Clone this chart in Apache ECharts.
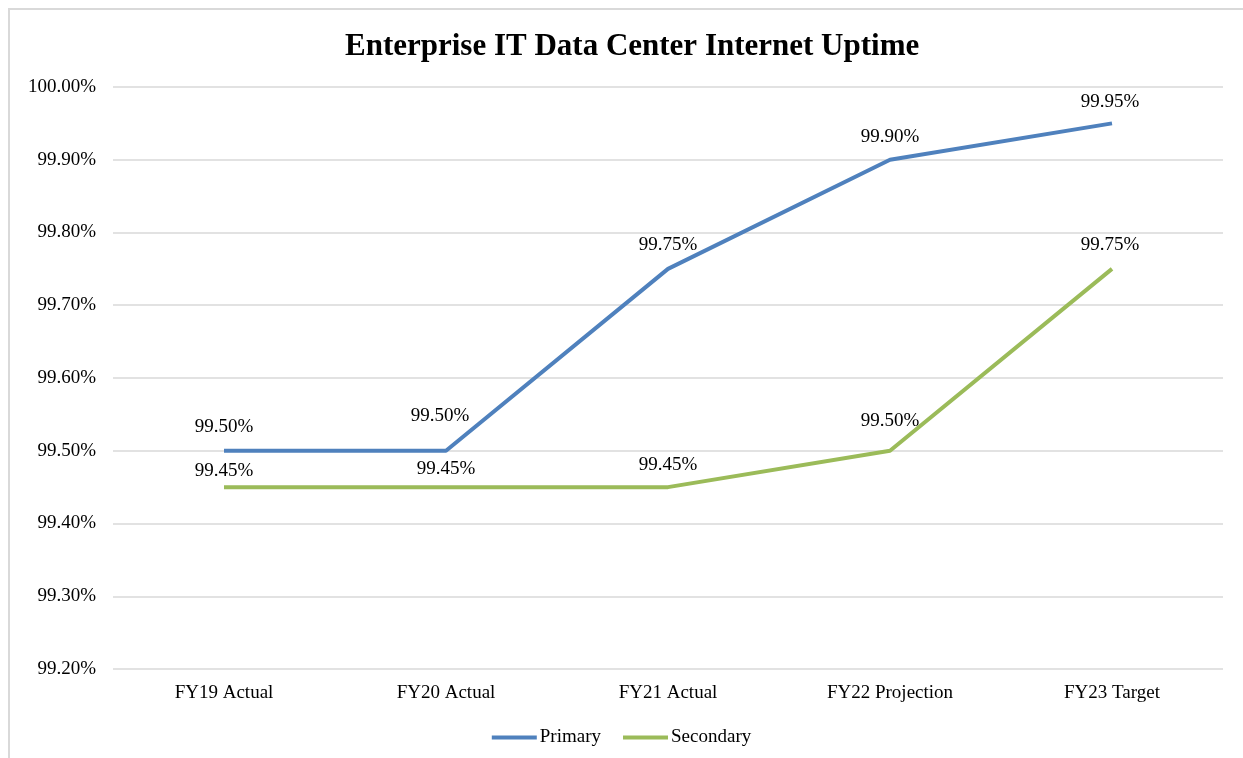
<!DOCTYPE html>
<html>
<head>
<meta charset="utf-8">
<script src="https://cdn.jsdelivr.net/npm/echarts@6/dist/echarts.min.js"></script>
<style>
  html, body { margin: 0; padding: 0; background: #fff; }
  #frame { position: absolute; left: 8px; top: 8px; width: 1235px; height: 750px;
           border-left: 2px solid #d9d9d9; border-top: 2px solid #d9d9d9; box-sizing: border-box; }
  #container { position: absolute; left: 0; top: 0; width: 1243px; height: 758px; }
</style>
</head>
<body>
<div id="frame"></div>
<div id="container"></div>
<script>
// chart data
var categories = ['FY19 Actual', 'FY20 Actual', 'FY21 Actual', 'FY22 Projection', 'FY23 Target'];
var primary = [99.50, 99.50, 99.75, 99.90, 99.95];
var secondary = [99.45, 99.45, 99.45, 99.50, 99.75];

// label distance above each point (matches the reference placement)
var primaryLabelOffset = [14, 25, 14, 13, 12];
var secondaryLabelOffset = [7, 9, 13, 20, 14];
var primaryLabelShift = [0, -6, 0, 0, -2];
var secondaryLabelShift = [0, 0, 0, 0, -2];

var font = 'Liberation Serif';

function withLabels(values, offsets, shifts) {
    return values.map(function (v, i) {
        return { value: v, label: { distance: offsets[i], offset: [shifts[i], 0] } };
    });
}

var dom = document.getElementById('container');
var myChart = echarts.init(dom, null, { renderer: 'canvas' });

var labelStyle = {
    show: true, position: 'top',
    fontFamily: font, fontSize: 19, color: '#000',
    formatter: function (p) { return p.value.toFixed(2) + '%'; }
};

var option = {
    title: {
        text: 'Enterprise IT Data Center Internet Uptime',
        left: 340,
        top: 26,
        textStyle: { fontFamily: font, fontWeight: 'bold', fontSize: 31, color: '#000' }
    },
    legend: {
        bottom: 6,
        left: 'center',
        itemWidth: 45,
        itemHeight: 4,
        itemGap: 22,
        icon: 'rect',
        textStyle: { fontFamily: font, fontSize: 19, color: '#000', padding: [0, 0, 0, -2] },
        data: ['Primary', 'Secondary']
    },
    grid: { left: 113, right: 20, top: 87, bottom: 89 },
    xAxis: {
        type: 'category',
        data: categories,
        axisLine: { show: false },
        axisTick: { show: false },
        axisLabel: { fontFamily: font, fontSize: 19, color: '#000', margin: 15 }
    },
    yAxis: {
        type: 'value',
        min: 99.2,
        max: 100,
        interval: 0.1,
        axisLine: { show: false },
        axisTick: { show: false },
        splitLine: { lineStyle: { color: '#d9d9d9', width: 1.5 } },
        axisLabel: {
            fontFamily: font, fontSize: 19, color: '#000', margin: 17,
            formatter: function (v) { return v.toFixed(2) + '%'; }
        }
    },
    series: [
        {
            name: 'Primary',
            type: 'line',
            data: withLabels(primary, primaryLabelOffset, primaryLabelShift),
            symbol: 'circle',
            symbolSize: 0,
            showSymbol: true,
            color: '#4F81BD',
            lineStyle: { width: 4, color: '#4F81BD' },
            label: labelStyle
        },
        {
            name: 'Secondary',
            type: 'line',
            data: withLabels(secondary, secondaryLabelOffset, secondaryLabelShift),
            symbol: 'circle',
            symbolSize: 0,
            showSymbol: true,
            color: '#9BBB59',
            lineStyle: { width: 4, color: '#9BBB59' },
            label: labelStyle
        }
    ]
};

myChart.setOption(option);
window.addEventListener('resize', myChart.resize);
</script>
</body>
</html>
